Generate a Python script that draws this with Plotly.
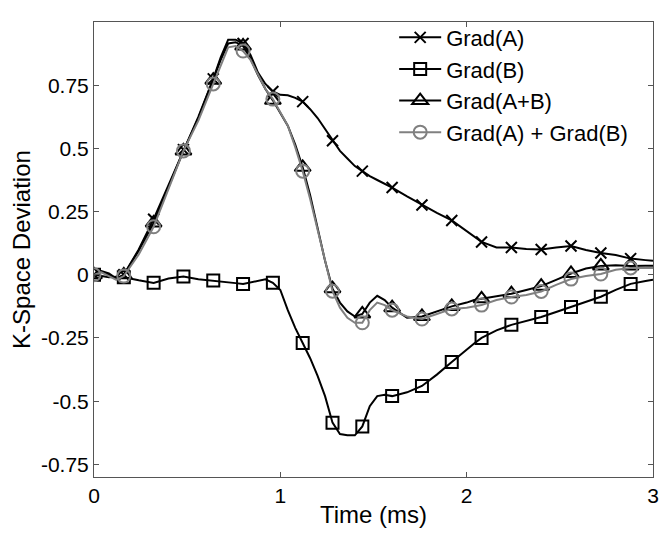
import plotly.graph_objects as go

# Time samples (ms)
time_ms = [0, 0.04, 0.08, 0.12, 0.16, 0.24, 0.32, 0.40, 0.48, 0.56, 0.64, 0.68, 0.72, 0.76,
           0.80, 0.84, 0.88, 0.92, 0.96, 1.00, 1.04, 1.08, 1.12, 1.16, 1.20, 1.24, 1.28, 1.32,
           1.36, 1.40, 1.44, 1.48, 1.52, 1.56, 1.60, 1.68, 1.76, 1.84, 1.92, 2.00, 2.04, 2.08,
           2.16, 2.24, 2.32, 2.40, 2.48, 2.56, 2.64, 2.72, 2.80, 2.88, 2.96, 3.00]

grad_a = [0.0, 0.015, 0.005, -0.015, 0.0, 0.10, 0.22, 0.355, 0.495, 0.625, 0.775, 0.86, 0.93, 0.93,
          0.915, 0.87, 0.80, 0.755, 0.725, 0.712, 0.71, 0.70, 0.685, 0.655, 0.62, 0.575, 0.53, 0.49,
          0.46, 0.43, 0.41, 0.39, 0.375, 0.36, 0.345, 0.31, 0.276, 0.245, 0.215, 0.172, 0.15, 0.13,
          0.108, 0.108, 0.102, 0.10, 0.108, 0.114, 0.098, 0.086, 0.078, 0.064, 0.058, 0.055]

grad_b = [0.0, -0.005, -0.01, -0.008, -0.01, -0.022, -0.032, -0.015, -0.007, -0.018, -0.023, -0.027, -0.03, -0.033,
          -0.036, -0.03, -0.022, -0.018, -0.032, -0.06, -0.14, -0.21, -0.27, -0.33, -0.40, -0.48, -0.585, -0.63,
          -0.635, -0.635, -0.60, -0.52, -0.48, -0.475, -0.48, -0.465, -0.44, -0.395, -0.345, -0.295, -0.272, -0.25,
          -0.22, -0.198, -0.182, -0.167, -0.147, -0.127, -0.106, -0.087, -0.06, -0.036, -0.025, -0.02]

grad_ab = [0.0, 0.012, 0.0, -0.015, 0.0, 0.095, 0.205, 0.35, 0.49, 0.62, 0.77, 0.85, 0.915, 0.92,
           0.905, 0.855, 0.79, 0.735, 0.69, 0.64, 0.59, 0.515, 0.425, 0.315, 0.185, 0.055, -0.055, -0.11,
           -0.145, -0.165, -0.155, -0.11, -0.083, -0.1, -0.13, -0.17, -0.165, -0.145, -0.125, -0.11, -0.1, -0.095,
           -0.085, -0.075, -0.06, -0.045, -0.02, 0.005, 0.025, 0.035, 0.038, 0.035, 0.036, 0.036]

grad_sum = [0.0, 0.01, -0.005, -0.02, -0.005, 0.08, 0.19, 0.34, 0.49, 0.61, 0.755, 0.835, 0.9, 0.905,
            0.885, 0.85, 0.79, 0.735, 0.695, 0.645, 0.59, 0.505, 0.41, 0.30, 0.18, 0.05, -0.065, -0.13,
            -0.17, -0.19, -0.19, -0.14, -0.11, -0.12, -0.14, -0.165, -0.175, -0.155, -0.135, -0.13, -0.125, -0.12,
            -0.10, -0.088, -0.08, -0.066, -0.04, -0.017, -0.005, 0.003, 0.02, 0.027, 0.028, 0.027]

series_names = ["Grad(A)", "Grad(B)", "Grad(A+B)", "Grad(A) + Grad(B)"]
marker_step = 0.16

FONT = "Liberation Sans, Arial, Helvetica, sans-serif"
GREY = "#808080"

styles = [
    dict(color="black", symbol="x-thin-open", size=11),
    dict(color="black", symbol="square-open", size=12),
    dict(color="black", symbol="triangle-up-open", size=14),
    dict(color=GREY, symbol="circle-open", size=13),
]

marker_idx = [i for i, t in enumerate(time_ms)
              if abs(t / marker_step - round(t / marker_step)) < 1e-6 and t < 2.95]

fig = go.Figure()
for name, ys, st in zip(series_names, [grad_a, grad_b, grad_ab, grad_sum], styles):
    fig.add_trace(go.Scatter(x=time_ms, y=ys, mode="lines", showlegend=False,
                             line=dict(color=st["color"], width=2), hoverinfo="skip"))
    fig.add_trace(go.Scatter(x=[time_ms[i] for i in marker_idx], y=[ys[i] for i in marker_idx],
                             mode="markers", showlegend=False,
                             marker=dict(symbol=st["symbol"], size=st["size"], color=st["color"],
                                         line=dict(color=st["color"], width=2))))
    fig.add_trace(go.Scatter(x=[None], y=[None], mode="lines+markers", name=name,
                             line=dict(color=st["color"], width=2),
                             marker=dict(symbol=st["symbol"], size=st["size"], color=st["color"],
                                         line=dict(color=st["color"], width=2))))

axis_common = dict(showline=True, linecolor="#555555", linewidth=1, mirror="ticks",
                   ticks="inside", ticklen=5, tickcolor="#555555", showgrid=False,
                   zeroline=False, automargin=False,
                   tickfont=dict(family=FONT, size=21, color="black"))

fig.update_xaxes(range=[0, 3], tickvals=[0, 1, 2, 3], ticktext=["0", "1", "2", "3"],
                 title=dict(text="Time (ms)", font=dict(family=FONT, size=24, color="black"), standoff=0),
                 **axis_common)
fig.update_yaxes(range=[-0.8, 1.0], tickvals=[-0.75, -0.5, -0.25, 0, 0.25, 0.5, 0.75],
                 ticktext=["-0.75", "-0.5", "-0.25", "0", "0.25", "0.5", "0.75"],
                 title=dict(text="K-Space Deviation", font=dict(family=FONT, size=24, color="black"), standoff=8),
                 **axis_common)

# the page body adds an 8px margin, so the figure is sized/offset to compensate
fig.update_layout(
    width=654, height=520,
    margin=dict(l=86, r=9, t=12, b=51),
    plot_bgcolor="white", paper_bgcolor="white",
    font=dict(family=FONT, color="black"),
    legend=dict(x=0.537, y=1.012, xanchor="left", yanchor="top", itemwidth=42,
                bgcolor="rgba(0,0,0,0)", borderwidth=0,
                font=dict(family=FONT, size=22, color="black"), tracegroupgap=0),
)

fig.write_html("out.html")
